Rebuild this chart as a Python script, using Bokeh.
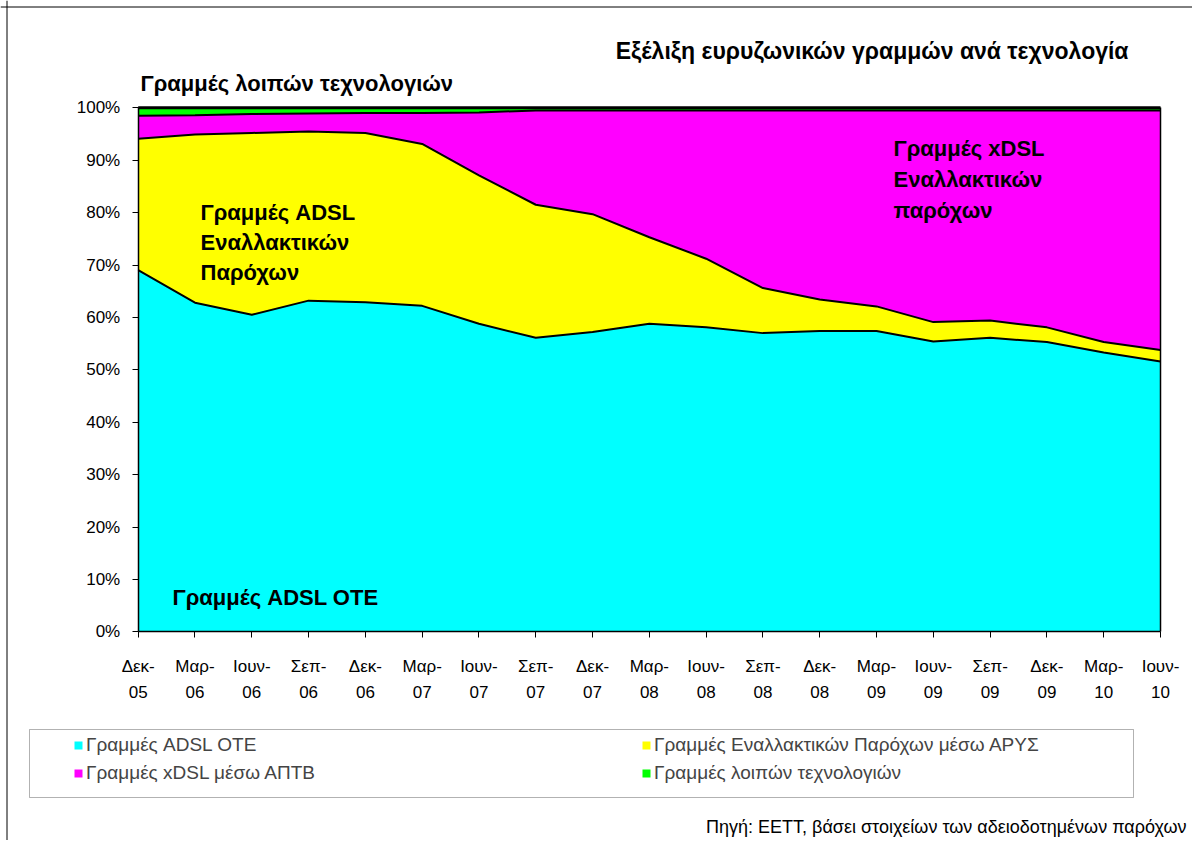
import numpy as np
from bokeh.plotting import figure
from bokeh.models import (ColumnDataSource, FixedTicker, Label, Legend, LegendItem,
                          BoxAnnotation, Range1d, PrintfTickFormatter, LinearAxis, Span)
from bokeh.embed import file_html
from bokeh.resources import INLINE

# ---------------- data ----------------
categories = ["Δεκ-05", "Μαρ-06", "Ιουν-06", "Σεπ-06", "Δεκ-06", "Μαρ-07", "Ιουν-07",
              "Σεπ-07", "Δεκ-07", "Μαρ-08", "Ιουν-08", "Σεπ-08", "Δεκ-08", "Μαρ-09",
              "Ιουν-09", "Σεπ-09", "Δεκ-09", "Μαρ-10", "Ιουν-10"]

adsl_ote = [69.0, 62.8, 60.5, 63.2, 62.9, 62.2, 58.8, 56.1, 57.2, 58.8, 58.1, 57.0,
            57.4, 57.4, 55.4, 56.1, 55.3, 53.3, 51.6]
adsl_arys = [25.1, 32.1, 34.7, 32.3, 32.3, 30.9, 28.3, 25.4, 22.5, 16.5, 13.1, 8.6,
             6.0, 4.7, 3.7, 3.3, 2.8, 2.0, 2.2]
xdsl_aptv = [4.4, 3.7, 3.6, 3.4, 3.8, 5.9, 12.0, 18.0, 19.8, 24.2, 28.3, 33.9,
             36.1, 37.4, 40.4, 40.1, 41.4, 44.2, 45.7]
other_tech = [1.5, 1.4, 1.2, 1.1, 1.0, 1.0, 0.9, 0.5, 0.5, 0.5, 0.5, 0.5,
              0.5, 0.5, 0.5, 0.5, 0.5, 0.5, 0.5]

series_names = ["Γραμμές ADSL OTE", "Γραμμές Εναλλακτικών Παρόχων μέσω ΑΡΥΣ",
                "Γραμμές xDSL μέσω ΑΠΤΒ", "Γραμμές λοιπών τεχνολογιών"]
series_colors = ["#00FFFF", "#FFFF00", "#FF00FF", "#00FF00"]

y_ticks = [0, 10, 20, 30, 40, 50, 60, 70, 80, 90, 100]

# 100% stacked shares
vals = np.array([adsl_ote, adsl_arys, xdsl_aptv, other_tech], dtype=float)
vals = vals / vals.sum(axis=0) * 100.0
xs = list(range(len(categories)))
keys = ["ote", "arys", "xdsl", "other"]
src = ColumnDataSource(dict(x=xs, **{k: vals[i] for i, k in enumerate(keys)}))
cum = np.cumsum(vals, axis=0)

FONT = "Liberation Sans"
W, H = 1192, 840
# plot area: x 0..18 -> 137.7..1160 px ; y 0..100 -> 631.3..107.3 px
sx = (1160 - 137.7) / (len(categories) - 1)
sy = (631.3 - 107.3) / 100.0
x0 = -137.7 / sx
y1 = 100 + 107.3 / sy

p = figure(width=W, height=H, min_border=0, min_border_left=0, min_border_right=0,
           min_border_top=0, min_border_bottom=0,
           x_range=Range1d(x0, x0 + W / sx), y_range=Range1d(y1 - H / sy, y1),
           x_axis_type=None, y_axis_type=None,
           output_backend="svg", toolbar_location=None,
           background_fill_color="white", border_fill_color="white")
p.xgrid.visible = False
p.ygrid.visible = False
p.outline_line_color = None

renderers = p.varea_stack(stackers=keys, x="x", color=series_colors, source=src)

for i in range(cum.shape[0]):
    p.line(xs, cum[i], line_color="black", line_width=3 if i == cum.shape[0] - 1 else 2)

# axes
xaxis = LinearAxis(fixed_location=0, bounds=(0, len(categories) - 1),
                   ticker=FixedTicker(ticks=xs),
                   major_label_overrides={i: c.replace("-", "-\n") for i, c in enumerate(categories)})
yaxis = LinearAxis(fixed_location=0, bounds=(0, 100), ticker=FixedTicker(ticks=y_ticks),
                   formatter=PrintfTickFormatter(format="%d%%"))
raxis = LinearAxis(fixed_location=len(categories) - 1, bounds=(0, 100),
                   ticker=FixedTicker(ticks=[]), major_label_text_font_size="0px")
for ax in (xaxis, yaxis, raxis):
    ax.axis_line_color = "black"
    ax.axis_line_width = 1.5
    ax.major_tick_line_color = "black"
    ax.major_tick_out = 6
    ax.major_tick_in = 0
    ax.minor_tick_line_color = None
    ax.major_label_text_font = FONT
    ax.major_label_text_color = "black"
xaxis.major_label_text_font_size = "17px"
yaxis.major_label_text_font_size = "17px"
yaxis.major_label_standoff = 12
xaxis.major_label_standoff = 19
xaxis.major_label_text_line_height = 1.38
p.add_layout(xaxis, "below")
p.add_layout(yaxis, "left")
p.add_layout(raxis, "right")

def dx(px):
    return (px - 137.7) / sx

def dy(py):
    return (631.3 - py) / sy

# outer chart border (left and top)
p.add_layout(Span(location=dx(6.5), dimension="height", line_color="black", line_width=1))
p.add_layout(Span(location=dy(6.5), dimension="width", line_color="black", line_width=1))

# texts
def lab(px, py, text, size="22px", bold=True, align="left"):
    p.add_layout(Label(x=dx(px), y=dy(py), text=text, text_font=FONT, text_font_size=size,
                       text_font_style="bold" if bold else "normal", text_color="black",
                       text_align=align, text_baseline="middle"))

lab(1128, 50, "Εξέλιξη ευρυζωνικών γραμμών ανά τεχνολογία", size="23px", align="right")
lab(140, 83, "Γραμμές λοιπών τεχνολογιών")
lab(200, 212, "Γραμμές ADSL")
lab(200, 242, "Εναλλακτικών")
lab(200, 272, "Παρόχων")
lab(893, 148, "Γραμμές xDSL")
lab(893, 179, "Εναλλακτικών")
lab(893, 210, "παρόχων")
lab(172, 597, "Γραμμές ADSL OTE")
lab(1186, 826, "Πηγή: ΕΕΤΤ, βάσει στοιχείων των αδειοδοτημένων παρόχων",
    size="18px", bold=False, align="right")

# legend (swatches with a black border, linked to the stacked areas)
p.add_layout(BoxAnnotation(left=dx(29), right=dx(1133), top=dy(729), bottom=dy(797),
                           fill_alpha=0, line_color="black", line_width=1))
empty = ColumnDataSource(dict(x=[], y=[]))
items = []
for i in range(4):
    sw = p.rect("x", "y", width=1, height=1, source=empty, fill_color=series_colors[i],
                line_color="black", line_width=1)
    items.append(LegendItem(label=series_names[i], renderers=[renderers[i], sw]))
legend = Legend(items=items, location=(73, H - 784), orientation="horizontal", ncols=2,
                padding=0, margin=0, spacing=6, border_line_color=None,
                background_fill_alpha=0, glyph_width=10, glyph_height=10,
                label_standoff=3, label_width=549, label_height=20,
                label_text_font=FONT, label_text_font_size="19px")
p.add_layout(legend, "center")

open("out.html", "w").write(file_html(p, INLINE))
